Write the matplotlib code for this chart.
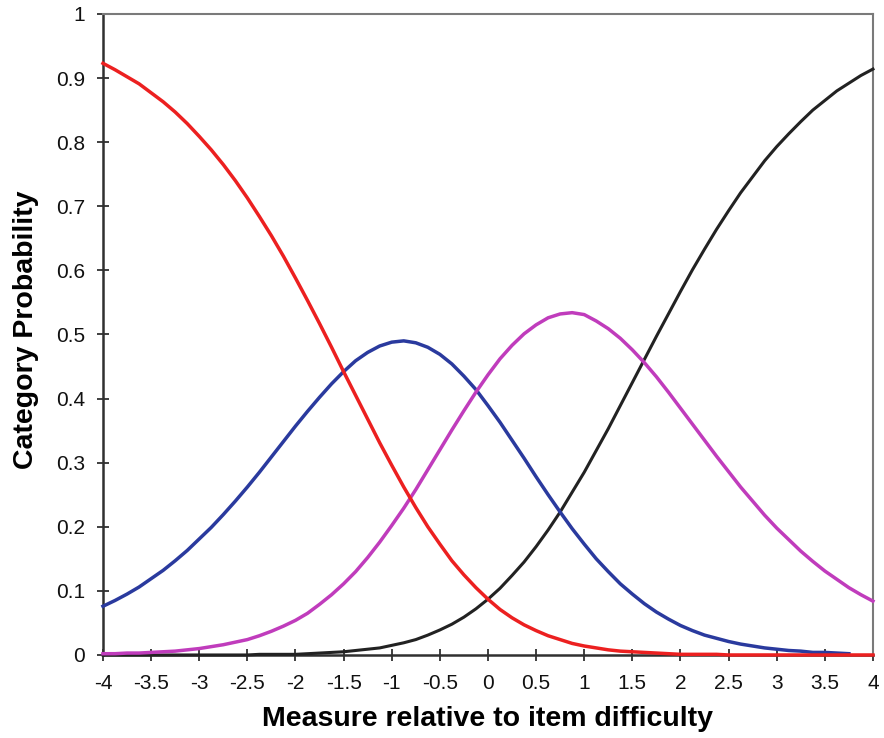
import matplotlib
matplotlib.use("Agg")
import matplotlib.pyplot as plt

# measure relative to item difficulty (logits), 0.125 steps
x = [-4, -3.875, -3.75, -3.625, -3.5, -3.375, -3.25, -3.125,
     -3, -2.875, -2.75, -2.625, -2.5, -2.375, -2.25, -2.125,
     -2, -1.875, -1.75, -1.625, -1.5, -1.375, -1.25, -1.125,
     -1, -0.875, -0.75, -0.625, -0.5, -0.375, -0.25, -0.125,
     0, 0.125, 0.25, 0.375, 0.5, 0.625, 0.75, 0.875,
     1, 1.125, 1.25, 1.375, 1.5, 1.625, 1.75, 1.875,
     2, 2.125, 2.25, 2.375, 2.5, 2.625, 2.75, 2.875,
     3, 3.125, 3.25, 3.375, 3.5, 3.625, 3.75, 3.875, 4]

# category probabilities
cat0 = [0.923, 0.913, 0.902, 0.891, 0.877, 0.863, 0.847, 0.829,
        0.809, 0.788, 0.765, 0.740, 0.713, 0.684, 0.654, 0.622,
        0.588, 0.553, 0.517, 0.480, 0.442, 0.405, 0.368, 0.331,
        0.296, 0.262, 0.230, 0.200, 0.173, 0.147, 0.125, 0.105,
        0.087, 0.071, 0.058, 0.047, 0.038, 0.030, 0.024, 0.018,
        0.014, 0.011, 0.008, 0.006, 0.005, 0.004, 0.003, 0.002,
        0.001, 0.001, 0.001, 0.001, 0.0, 0.0, 0.0, 0.0,
        0.0, 0.0, 0.0, 0.0, 0.0, 0.0, 0.0, 0.0, 0.0]
# blue curve stops at 3.75
cat1 = [0.076, 0.085, 0.095, 0.106, 0.119, 0.132, 0.147, 0.163,
        0.181, 0.199, 0.219, 0.240, 0.262, 0.285, 0.309, 0.333,
        0.357, 0.380, 0.402, 0.423, 0.442, 0.459, 0.472, 0.482,
        0.488, 0.490, 0.487, 0.480, 0.469, 0.454, 0.435, 0.414,
        0.389, 0.363, 0.335, 0.307, 0.278, 0.250, 0.223, 0.197,
        0.173, 0.150, 0.130, 0.111, 0.095, 0.080, 0.067, 0.056,
        0.046, 0.038, 0.031, 0.026, 0.021, 0.017, 0.014, 0.011,
        0.009, 0.007, 0.006, 0.004, 0.004, 0.003, 0.002]
cat2 = [0.002, 0.002, 0.003, 0.003, 0.004, 0.005, 0.006, 0.008,
        0.010, 0.013, 0.016, 0.020, 0.024, 0.030, 0.037, 0.045,
        0.054, 0.065, 0.079, 0.094, 0.111, 0.130, 0.152, 0.176,
        0.202, 0.229, 0.258, 0.289, 0.320, 0.351, 0.381, 0.410,
        0.437, 0.462, 0.483, 0.501, 0.515, 0.526, 0.532, 0.534,
        0.531, 0.521, 0.509, 0.494, 0.476, 0.456, 0.434, 0.410,
        0.385, 0.360, 0.335, 0.310, 0.286, 0.262, 0.240, 0.218,
        0.198, 0.180, 0.162, 0.146, 0.131, 0.118, 0.105, 0.094, 0.084]
cat3 = [0.0, 0.0, 0.0, 0.0, 0.0, 0.0, 0.0, 0.0,
        0.0, 0.0, 0.0, 0.0, 0.0, 0.001, 0.001, 0.001,
        0.001, 0.002, 0.003, 0.004, 0.005, 0.007, 0.009, 0.011,
        0.015, 0.019, 0.024, 0.031, 0.039, 0.048, 0.059, 0.072,
        0.087, 0.104, 0.124, 0.145, 0.169, 0.195, 0.223, 0.254,
        0.285, 0.319, 0.353, 0.389, 0.425, 0.461, 0.497, 0.532,
        0.567, 0.601, 0.633, 0.664, 0.693, 0.721, 0.746, 0.771,
        0.793, 0.813, 0.832, 0.850, 0.865, 0.880, 0.892, 0.904, 0.914]

xticks = [-4, -3.5, -3, -2.5, -2, -1.5, -1, -0.5, 0, 0.5, 1, 1.5, 2, 2.5, 3, 3.5, 4]
xticklabels = ["-4", "-3.5", "-3", "-2.5", "-2", "-1.5", "-1", "-0.5", "0", "0.5",
               "1", "1.5", "2", "2.5", "3", "3.5", "4"]
yticks = [0, 0.1, 0.2, 0.3, 0.4, 0.5, 0.6, 0.7, 0.8, 0.9, 1]
yticklabels = ["0", "0.1", "0.2", "0.3", "0.4", "0.5", "0.6", "0.7", "0.8", "0.9", "1"]

plt.rcParams['font.family'] = ['Liberation Sans', 'DejaVu Sans']

fig = plt.figure(figsize=(8.84, 7.38), dpi=100)
ax = fig.add_axes([0.1165, 0.1125, 0.871, 0.8686])

ax.plot(x, cat3, color='#222222', lw=2.2, clip_on=False, zorder=3)
ax.plot(x[:len(cat1)], cat1, color='#2a3a9e', lw=2.5, clip_on=False, zorder=4)
ax.plot(x, cat2, color='#c03cbc', lw=2.5, clip_on=False, zorder=5)
ax.plot(x, cat0, color='#ec2020', lw=2.5, clip_on=False, zorder=6)

ax.set_xlim(-4, 4)
ax.set_ylim(0, 1)
ax.set_xticks(xticks)
ax.set_xticklabels(xticklabels)
ax.set_yticks(yticks)
ax.set_yticklabels(yticklabels)
ax.tick_params(axis='both', direction='inout', length=9, width=1.3, labelsize=15,
               color='#303030', labelcolor='#111111')
ax.tick_params(axis='x', pad=9.5)
ax.tick_params(axis='y', pad=8.5)

for side in ['left', 'bottom']:
    ax.spines[side].set_color('#303030')
    ax.spines[side].set_linewidth(1.8)
for side in ['top', 'right']:
    ax.spines[side].set_color('#7a7a7a')
    ax.spines[side].set_linewidth(1.5)

ax.set_xlabel('Measure relative to item difficulty', fontsize=20.5, fontweight='bold', va='center')
ax.set_ylabel('Category Probability', fontsize=20.5, fontweight='bold', va='center')
ax.xaxis.set_label_coords(0.5, -0.1)
ax.yaxis.set_label_coords(-0.1, 0.507)

fig.savefig('out.png', dpi=100)
